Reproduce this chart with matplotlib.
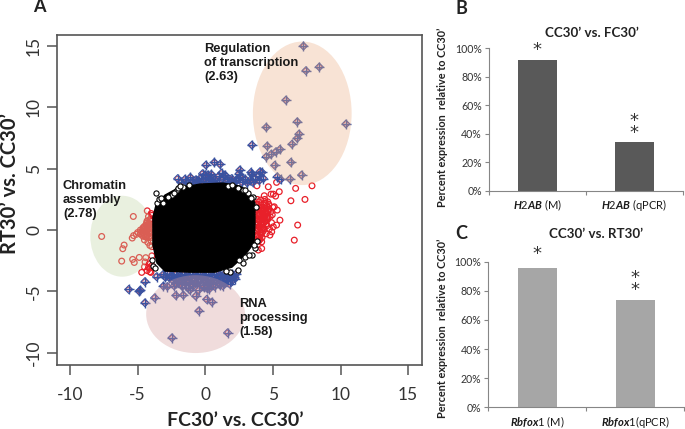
import matplotlib
matplotlib.use("Agg")
import matplotlib.pyplot as plt
from matplotlib.patches import Ellipse

plt.rcParams['font.family'] = ['Lato', 'DejaVu Sans']
plt.rcParams['mathtext.fontset'] = 'custom'
plt.rcParams['mathtext.it'] = 'Lato:italic:bold'
plt.rcParams['mathtext.rm'] = 'Lato'
plt.rcParams['axes.unicode_minus'] = False

W, H = 685, 429

# panel A, dense middle of the cloud (outline)
core_x = [-3.87, -3.64, -2.98, -2.02, -0.39, 1.31, 2.56, 3.3, 3.67, 3.67, 3.6, 2.93, 1.97, 0.72, -1.13, -2.98, -3.57, -3.87]
core_y = [1.06, 2.04, 2.85, 3.43, 3.75, 3.83, 3.59, 3.02, 2.2, 0.41, -1.06, -2.04, -3.02, -3.43, -3.43, -3.34, -2.69, -1.22]

# black open circles on the rim of the cloud
rim_x = [-3.67, -3.59, -3.4, -3.15, -2.48, -2.11, -2.0, -1.63, -1.2, -2.75, -3.3, 1.7, 2.0, 2.44, 2.8, 3.18, 3.55, 3.75,
         2.39, 1.83, 2.81, 3.43, 2.93, 2.51, 3.2, 3.65, 3.8, 1.5, -3.95, -3.9, -3.7, -2.3, -1.85, 2.95, 3.4, 3.62]
rim_y = [2.99, 2.18, 2.5, 2.2, 2.85, 3.26, 3.4, 3.55, 3.7, 2.7, 2.6, 3.6, 3.7, 3.4, 3.3, 3.0, 2.72, 1.9,
         -3.26, -3.4, -2.66, -2.04, -2.17, -2.45, -2.0, -1.5, -0.9, -3.3, -2.4, -2.9, -3.1, 3.05, 3.62, 3.25, 2.65, -1.2]

# red open circles, right side
red_r_x = [3.82, 4.66, 4.36, 4.86, 5.03, 5.2, 5.47, 5.27, 6.33, 7.37, 6.68, 7.89, 6.83, 6.58, 5.32, 5.52, 5.27, 5.03, 4.91, 4.78,
           4.17, 4.17, 3.92, 3.8, 3.95, 4.1, 4.25, 4.4, 4.55, 4.7, 4.85, 5.0, 3.85, 4.0, 4.2, 4.35, 4.5, 4.65, 4.8, 3.9, 4.05,
           4.25, 4.45, 4.6, 4.9, 3.8, 4.0, 4.15, 4.3, 4.55, 4.75, 3.85, 4.05, 4.3, 4.5, 4.95, 4.1, 4.4, 4.62, 5.1, 3.78, 4.2,
           3.8, 3.9, 4.0, 4.1, 4.2, 4.3, 4.4, 4.5, 4.6, 3.85, 3.95, 4.05, 4.15, 4.25, 4.35, 4.45, 4.55, 3.8, 3.9, 4.0, 4.1, 4.2,
           4.3, 4.4, 4.5, 3.85, 3.95, 4.05, 4.15, 4.25, 4.35, 3.8, 3.9, 4.0, 4.1, 4.2, 3.85, 3.95, 4.05, 4.15, 3.85, 3.95, 4.5, 4.7]
red_r_y = [3.61, 3.53, 2.8, 2.93, 2.93, 2.77, 3.13, 3.89, 2.39, 2.5, 3.4, 3.61, 0.41, -0.82, 1.63, 0.81, 0.41, 0.27, -0.14, -0.41,
           -0.96, -1.5, -1.63, 2.1, 1.9, 2.05, 1.75, 2.2, 1.95, 1.7, 1.5, 1.85, 1.45, 1.3, 1.55, 1.2, 1.4, 1.05, 1.1, 0.9, 0.75,
           0.95, 0.7, 0.85, 0.6, 0.4, 0.3, 0.45, 0.2, 0.35, 0.1, -0.1, -0.25, -0.05, -0.3, 1.25, 2.45, 2.5, 2.3, 1.9, -0.5, -0.6,
           1.8, 1.65, 1.8, 1.6, 1.85, 1.6, 1.75, 1.55, 1.6, 1.25, 1.15, 1.25, 1.1, 1.3, 1.05, 1.25, 1.0, 0.7, 0.6, 0.75, 0.55, 0.7,
           0.55, 0.8, 0.5, 0.15, 0.05, 0.15, 0.0, 0.2, 0.1, -0.4, -0.45, -0.55, -0.4, -0.2, -0.8, -0.9, -0.75, 0.95, 2.5, 2.3, 2.2, 2.1]

# red open circles, left side
red_l_x = [-7.66, -5.32, -6.0, -6.1, -6.18, -5.37, -5.25, -4.88, -4.29, -4.4, -4.5, -4.7, -4.1, -4.2, -3.95, -4.05, -4.3, -4.6, -4.8, -5.0,
           -5.3, -5.4, -5.1, -4.2, -4.05, -3.95, -4.3, -4.15, -4.4, -4.5, -4.0, -4.25, -4.1, -3.95, -4.35, -4.0, -4.2, -3.95, -4.45, -4.15,
           -4.3, -3.95, -4.1, -4.02, -4.5, -4.4, -4.3, -4.2, -4.1, -4.0, -4.6, -4.5, -4.4, -4.3, -4.2, -4.1, -4.7, -4.6, -4.5, -4.4, -4.3,
           -4.2, -4.1, -4.0, -4.8, -4.7, -4.6, -4.5, -4.4, -4.3, -4.2, -4.1, -4.0]
red_l_y = [-0.52, 1.11, -1.22, -1.52, -2.53, -2.39, -2.64, -2.23, 1.57, -2.25, -3.0, -3.45, -3.4, -3.05, 1.2, 0.9, 0.75, 0.2, 0.0, -0.2,
           -0.45, -0.65, -0.35, 0.35, 0.5, 0.2, -0.05, -0.3, -0.55, -0.8, -0.6, -1.0, -1.25, -1.35, 0.55, 1.35, 1.1, -2.1, -2.6, -2.75,
           -3.3, -2.9, -3.1, -3.45, 0.3, 0.4, 0.7, 0.55, 0.85, 0.7, 0.1, 0.05, 0.2, 0.3, 0.15, 0.3, -0.1, -0.2, -0.1, -0.15, -0.05,
           -0.15, -0.05, -0.2, -0.3, -0.4, -0.5, -0.4, -0.55, -0.45, -0.6, -0.5, -0.9]

# genes significant on the vertical axis (plus + diamond)
sig_x = [7.26, 8.43, 7.44, 5.96, 10.4, 6.8, 4.51, 6.93, 6.8, 6.41, 4.58, 3.45, 5.52, 5.22, 4.86, 4.51, 6.33, 5.13, 7.12, 5.32, 5.57, 6.26, 4.04,
         0.05, 0.67, 1.09, 2.56, 3.38, -2.04, -1.5, -1.1, -0.7, -0.35, 0.0, 0.35, 0.7, 1.0, 1.3, 1.6, 1.95, 2.3, 2.6, 2.95, 3.3, 3.65, 4.0, 4.3,
         -0.2, 0.2, 0.45, 1.2, 1.45, 2.5, 2.6, 3.45, 3.95, 4.2,
         -3.6, -4.46, -5.66, -4.88, -4.8, -4.46, -3.74, -0.47, 1.65, -2.46, -2.17, -1.62, -0.71, 0.1, 0.5, -3.1, -2.8, -2.3, -1.13, 0.1, 1.09, 1.58, 2.2,
         -3.1, -2.8, -2.5, -2.2, -1.9, -1.6, -1.3, -1.0, -0.7, -0.4, -0.1, 0.2, 0.5, 0.8, 1.1, 1.4, 1.7, 2.0, 2.3,
         -2.4, -2.0, -1.6, -1.2, -0.8, -0.4, 0.0, 0.4, 0.8, 1.2, 1.6, 2.0,
         -1.7, -1.3, -0.9, -0.5, -0.1, 0.3, 0.7, 1.3,
         -2.95, -2.65, -2.35, -2.05, -1.75, -1.45, -1.15, -0.85, -0.55, -0.25, 0.05, 0.35, 0.65, 0.95, 1.25, 1.55, 1.85, 2.15,
         -2.2, -1.8, -1.4, -1.0, -0.6, -0.2, 0.2, 0.6, 1.0, 1.4, 1.8,
         -1.0, -0.6, -0.2, 0.2, 0.6, 1.0, 1.6, 1.9, 2.2, 2.7, 3.1, 3.5, -1.8, -1.4, -0.9, -0.5, 0.3]
sig_y = [15.0, 13.3, 13.0, 10.6, 8.65, 8.83, 8.38, 7.83, 7.48, 7.0, 6.85, 6.93, 6.58, 6.39, 6.17, 5.98, 5.52, 5.28, 4.49, 4.35, 4.13, 4.16, 4.76,
         5.3, 5.52, 5.36, 4.9, 4.7, 4.2, 4.15, 4.3, 4.1, 4.25, 4.5, 4.15, 4.1, 4.4, 4.3, 4.15, 4.2, 4.1, 4.3, 4.15, 4.05, 4.2, 4.05, 4.2,
         4.6, 4.5, 4.55, 4.65, 4.5, 4.6, 4.35, 4.55, 4.45, 4.7,
         -3.8, -4.2, -4.84, -5.0, -4.9, -5.93, -5.52, -6.58, -8.37, -8.78, -5.33, -5.3, -5.38, -5.65, -5.87, -4.57, -4.6, -4.55, -4.89, -4.73, -4.49, -4.08, -3.95,
         -3.6, -3.55, -3.7, -3.6, -3.75, -3.6, -3.7, -3.55, -3.65, -3.6, -3.75, -3.6, -3.7, -3.55, -3.65, -3.6, -3.7, -3.6, -3.55,
         -4.1, -4.2, -4.05, -4.25, -4.1, -4.2, -4.05, -4.25, -4.1, -4.15, -4.05, -4.1,
         -4.6, -4.7, -4.55, -4.9, -4.65, -4.8, -4.6, -4.55,
         -3.85, -3.9, -3.8, -3.9, -3.85, -3.95, -3.85, -3.9, -3.8, -3.9, -3.85, -3.95, -3.85, -3.9, -3.8, -3.85, -3.9, -3.8,
         -4.35, -4.4, -4.3, -4.4, -4.35, -4.45, -4.35, -4.4, -4.3, -4.35, -4.4,
         3.95, 4.0, 3.95, 3.9, 4.0, 3.9, 3.95, 4.0, 3.9, 3.9, 3.85, 3.9, 3.9, 3.95, 3.9, 4.0, 3.95]

# shaded GO groups: centre, size
go_centre = [(7.17, 9.52), (-6.15, -0.5), (-0.72, -6.85)]
go_size = [(7.3, 11.7), (4.7, 6.6), (7.3, 6.35)]
go_color = ['#EBAF87', '#C0D4A4', '#D49B9B']

# panels B and C
b_labels = [r'$\mathit{H2AB}$ (M)', r'$\mathit{H2AB}$ (qPCR)']
b_values = [92, 34]
c_labels = [r'$\mathit{Rbfox1}$ (M)', r'$\mathit{Rbfox1}$(qPCR)']
c_values = [96, 74]
pct_ticks = [0, 20, 40, 60, 80, 100]


def px_axes(left, top, right, bottom):
    return fig.add_axes([left / W, 1 - bottom / H, (right - left) / W, (bottom - top) / H])


def px_text(x, y, s, **kw):
    kw.setdefault('ha', 'center')
    kw.setdefault('va', 'center')
    fig.text(x / W, 1 - y / H, s, **kw)


fig = plt.figure(figsize=(W / 100, H / 100), dpi=100)

# ---- A ----
ax = px_axes(57.3, 34.7, 421.7, 365)
ax.set_xlim(-10.94, 16.0)
ax.set_ylim(-11.0, 15.93)

ax.scatter(red_r_x, red_r_y, s=17, facecolors='none', edgecolors='#E8202A', linewidths=0.9, zorder=2)
ax.scatter(red_l_x, red_l_y, s=17, facecolors='none', edgecolors='#E8202A', linewidths=0.9, zorder=2)
ax.scatter(sig_x, sig_y, s=10, facecolors='none', edgecolors='#D8404A', linewidths=0.6, zorder=3)
ax.scatter(sig_x, sig_y, s=48, marker='+', color='#3A52A0', linewidths=1.0, zorder=3)
ax.scatter(sig_x, sig_y, s=16, marker='D', facecolors='none', edgecolors='#3A52A0', linewidths=0.8, zorder=3)

for c, sz, col in zip(go_centre, go_size, go_color):
    ax.add_patch(Ellipse(c, sz[0], sz[1], facecolor=col, edgecolor='none', alpha=0.35, zorder=4))

ax.fill(core_x, core_y, color='black', zorder=5)
ax.scatter(rim_x, rim_y, s=14, facecolors='white', edgecolors='black', linewidths=0.8, zorder=6)

ax.set_xticks([-10, -5, 0, 5, 10, 15])
ax.set_yticks([-10, -5, 0, 5, 10, 15])
ax.tick_params(axis='both', length=7, width=1.1, color='#555555', labelsize=12.5, labelcolor='#333333')
ax.tick_params(axis='x', pad=9)
ax.tick_params(axis='y', pad=4)
for lab in ax.get_yticklabels():
    lab.set_rotation(90)
    lab.set_va('center')
for sp in ax.spines.values():
    sp.set_color('#555555')
    sp.set_linewidth(1.2)

px_text(39, 7, 'A', fontsize=13, fontweight='bold', color='#222222')
px_text(235, 420, 'FC30\u2019 vs. CC30\u2019', fontsize=14, fontweight='bold', color='#222222')
px_text(10, 183, 'RT30\u2019 vs. CC30\u2019', fontsize=14.5, fontweight='bold', rotation=90, color='#222222')

anno = dict(family=['Liberation Sans'], fontweight='bold', fontsize=9.3, color='#1a1a1a', ha='left', linespacing=1.25)
px_text(204, 63, 'Regulation\nof transcription\n(2.63)', **anno)
px_text(63, 200, 'Chromatin\nassembly\n(2.78)', **anno)
px_text(239, 318, 'RNA\nprocessing\n(1.58)', **anno)


# ---- B and C ----
def bar_panel(box, labels, values, color, title, title_xy, letter, letter_xy, ylab_xy, star_px):
    a = px_axes(*box)
    a.bar([0, 1], values, width=0.4, color=color)
    a.set_xlim(-0.5, 1.5)
    a.set_ylim(0, 100)
    a.set_yticks(pct_ticks)
    a.set_yticklabels([f'{t}%' for t in pct_ticks], fontsize=7.6, color='#333333')
    a.set_xticks([-0.5, 0.5, 1.5])
    a.set_xticklabels([])
    a.tick_params(axis='both', length=3, width=0.8, color='#868686', pad=2)
    a.spines['top'].set_visible(False)
    a.spines['right'].set_visible(False)
    a.spines['left'].set_color('#868686')
    a.spines['bottom'].set_color('#868686')
    for i, lab in enumerate(labels):
        a.annotate(lab, (i, 0), xytext=(0, -10.5), textcoords='offset points', ha='center', va='center',
                   fontsize=8, color='#1a1a1a', annotation_clip=False)
    px_text(*title_xy, title, fontsize=9.6, fontweight='bold', color='#222222')
    px_text(*letter_xy, letter, fontsize=13, fontweight='bold', color='#222222')
    px_text(*ylab_xy, 'Percent expression  relative to CC30\u2019', fontsize=7.8, fontweight='bold',
            rotation=90, color='#222222')
    for x, y, s in star_px:
        px_text(x, y, s, fontsize=13, color='#333333', family=['DejaVu Sans'], linespacing=0.55)


bar_panel((489, 48.3, 682.7, 190.7), b_labels, b_values, '#595959', 'CC30\u2019 vs. FC30\u2019', (592, 33),
          'B', (461, 8), (442, 117), [(537, 50, '*'), (634, 127, '*\n*')])
bar_panel((488.3, 261.7, 684, 407.3), c_labels, c_values, '#A6A6A6', 'CC30\u2019 vs. RT30\u2019', (596, 234),
          'C', (461, 233), (442, 328), [(537, 254, '*'), (635, 284, '*\n*')])

fig.savefig('out.png', dpi=100)
